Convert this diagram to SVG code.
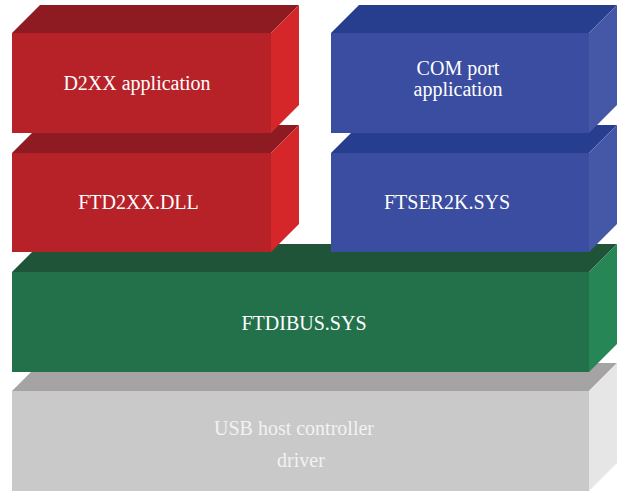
<svg xmlns="http://www.w3.org/2000/svg" width="618" height="491" viewBox="0 0 618 491">
<style>
.lbl{font-family:"Liberation Serif","Times New Roman",serif;font-size:20px;fill:#FFFFFF;text-anchor:middle}
.gl{fill:#F2F2F2}
.rf{fill:#B72229}.rt{fill:#8E1B21}.rs{fill:#D5262A}
.bf{fill:#3A4DA0}.bt{fill:#263E8D}.bs{fill:#4558A8}
.gf{fill:#22714B}.gt{fill:#1F5438}.gs{fill:#278655}
.yf{fill:#C9C9C9}.yt{fill:#A5A3A3}.ys{fill:#E6E6E6}
</style>
<rect width="618" height="491" fill="#FFFFFF"/>
<g id="usb-host-controller-driver">
<polygon class="yt" points="12,391 40,363 617,363 589,391"/>
<polygon class="ys" points="589,391 617,363 617,463 589,491"/>
<rect class="yf" x="12" y="391" width="577" height="100"/>
<text class="lbl gl" x="294" y="435">USB host controller</text>
<text class="lbl gl" x="301" y="467">driver</text>
</g>
<g id="ftdibus">
<polygon class="gt" points="12,272 40,244 617,244 589,272"/>
<polygon class="gs" points="589,272 617,244 617,344 589,372"/>
<rect class="gf" x="12" y="272" width="577" height="100"/>
<text class="lbl" x="304" y="330">FTDIBUS.SYS</text>
</g>
<g id="ftd2xx-dll">
<polygon class="rt" points="12,153 40,125 299,125 271,153"/>
<polygon class="rs" points="271,153 299,125 299,224 271,252"/>
<rect class="rf" x="12" y="153" width="259" height="99"/>
<text class="lbl" x="138.5" y="209">FTD2XX.DLL</text>
</g>
<g id="d2xx-application">
<polygon class="rt" points="12,33 40,5 299,5 271,33"/>
<polygon class="rs" points="271,33 299,5 299,105 271,133"/>
<rect class="rf" x="12" y="33" width="259" height="100"/>
<text class="lbl" x="137" y="90">D2XX application</text>
</g>
<g id="ftser2k-sys">
<polygon class="bt" points="331,153 359,125 617,125 589,153"/>
<polygon class="bs" points="589,153 617,125 617,224 589,252"/>
<rect class="bf" x="331" y="153" width="258" height="99"/>
<text class="lbl" x="447" y="209">FTSER2K.SYS</text>
</g>
<g id="com-port-application">
<polygon class="bt" points="331,33 359,5 617,5 589,33"/>
<polygon class="bs" points="589,33 617,5 617,105 589,133"/>
<rect class="bf" x="331" y="33" width="258" height="100"/>
<text class="lbl" x="458" y="75">COM port</text>
<text class="lbl" x="458" y="96">application</text>
</g>
<g id="connectors"/>
</svg>
